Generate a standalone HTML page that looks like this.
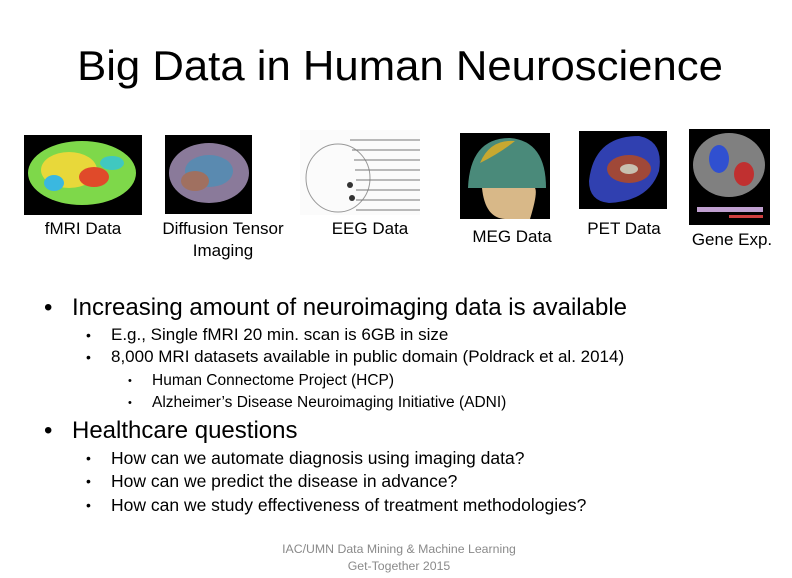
<!DOCTYPE html>
<html><head><meta charset="utf-8"><style>
body{margin:0;width:792px;height:578px;background:#fff;overflow:hidden;position:relative;font-family:"Liberation Sans",sans-serif;color:#000}
.t{position:absolute;white-space:nowrap;transform-origin:0 50%;transform:scaleX(1.0)}
.c{position:absolute;white-space:nowrap;text-align:center}
.img{position:absolute}
.b{position:absolute;white-space:nowrap}
</style></head><body>
<div class="c" style="left:0;width:800px;top:40px;font-size:42px;line-height:52px;transform:scaleX(1.04)">Big Data in Human Neuroscience</div>

<svg class="img" style="left:24px;top:135px" width="118" height="80"><rect width="118" height="80" fill="#000"/><ellipse cx="58" cy="38" rx="54" ry="32" fill="#7ed84a"/><ellipse cx="45" cy="35" rx="28" ry="18" fill="#e8d83a"/><ellipse cx="70" cy="42" rx="15" ry="10" fill="#e04a2a"/><ellipse cx="30" cy="48" rx="10" ry="8" fill="#3ab8e0"/><ellipse cx="88" cy="28" rx="12" ry="7" fill="#40c8c0"/></svg>
<svg class="img" style="left:165px;top:135px" width="87" height="79"><rect width="87" height="79" fill="#000"/><ellipse cx="44" cy="38" rx="40" ry="30" fill="#8a7a9a"/><ellipse cx="44" cy="36" rx="24" ry="16" fill="#5a8ab0"/><ellipse cx="30" cy="46" rx="14" ry="10" fill="#a07060"/></svg>
<svg class="img" style="left:300px;top:130px" width="120" height="85"><rect width="120" height="85" fill="#fbfbfb"/><ellipse cx="38" cy="48" rx="32" ry="34" fill="none" stroke="#999"/><g stroke="#777" fill="none"><path d="M50 10h70M52 20h68M54 30h66M55 40h65M56 50h64M56 60h64M56 70h64M56 80h64"/></g><circle cx="50" cy="55" r="3" fill="#333"/><circle cx="52" cy="68" r="3" fill="#333"/></svg>
<svg class="img" style="left:460px;top:133px" width="90" height="86"><rect width="90" height="86" fill="#000"/><path d="M8 55 Q10 5 50 5 Q86 8 86 55 Z" fill="#4a8a7a"/><path d="M20 30 Q30 6 55 8 Q40 20 20 30Z" fill="#c8a830"/><path d="M22 55 Q25 85 45 86 L70 86 Q78 60 75 55Z" fill="#d8b888"/></svg>
<svg class="img" style="left:579px;top:131px" width="88" height="78"><rect width="88" height="78" fill="#000"/><path d="M10 50 Q15 5 60 5 Q85 10 80 40 Q70 70 30 72 Q10 70 10 50Z" fill="#3040b0"/><ellipse cx="50" cy="38" rx="22" ry="14" fill="#a04838"/><ellipse cx="50" cy="38" rx="9" ry="5" fill="#c8c0b0"/></svg>
<svg class="img" style="left:689px;top:129px" width="81" height="96"><rect width="81" height="96" fill="#000"/><ellipse cx="40" cy="36" rx="36" ry="32" fill="#808080"/><ellipse cx="30" cy="30" rx="10" ry="14" fill="#3050d0"/><ellipse cx="55" cy="45" rx="10" ry="12" fill="#c03030"/><rect x="8" y="78" width="66" height="5" fill="#c0a0d0"/><rect x="40" y="86" width="34" height="3" fill="#d04040"/></svg>

<div class="c" style="left:23px;width:120px;top:218px;font-size:17px;line-height:22px">fMRI Data</div>
<div class="c" style="left:148px;width:150px;top:218px;font-size:17px;line-height:22px">Diffusion Tensor<br>Imaging</div>
<div class="c" style="left:310px;width:120px;top:218px;font-size:17px;line-height:22px">EEG Data</div>
<div class="c" style="left:452px;width:120px;top:226px;font-size:17px;line-height:22px">MEG Data</div>
<div class="c" style="left:564px;width:120px;top:218px;font-size:17px;line-height:22px">PET Data</div>
<div class="c" style="left:672px;width:120px;top:229px;font-size:17px;line-height:22px">Gene Exp.</div>

<div class="b" style="left:44px;top:293px;font-size:24px;line-height:30px">•</div>
<div class="t" style="left:72px;top:293px;font-size:24px;line-height:30px">Increasing amount of neuroimaging data is available</div>
<div class="b" style="left:86px;top:324px;font-size:14px;line-height:22px">•</div>
<div class="t" style="left:111px;top:324px;font-size:17px;line-height:22px">E.g., Single fMRI 20 min. scan is 6GB in size</div>
<div class="b" style="left:86px;top:346px;font-size:14px;line-height:22px">•</div>
<div class="t" style="left:111px;top:346px;font-size:17px;line-height:22px">8,000 MRI datasets available in public domain (Poldrack et al. 2014)</div>
<div class="b" style="left:128px;top:371px;font-size:11px;line-height:20px">•</div>
<div class="t" style="left:152px;top:371px;font-size:15.5px;line-height:20px">Human Connectome Project (HCP)</div>
<div class="b" style="left:128px;top:393px;font-size:11px;line-height:20px">•</div>
<div class="t" style="left:152px;top:393px;font-size:15.5px;line-height:20px">Alzheimer’s Disease Neuroimaging Initiative (ADNI)</div>
<div class="b" style="left:44px;top:416px;font-size:24px;line-height:30px">•</div>
<div class="t" style="left:72px;top:416px;font-size:24px;line-height:30px">Healthcare questions</div>
<div class="b" style="left:86px;top:447px;font-size:14px;line-height:22px">•</div>
<div class="t" style="left:111px;top:447px;font-size:17.5px;line-height:22px">How can we automate diagnosis using imaging data?</div>
<div class="b" style="left:86px;top:470px;font-size:14px;line-height:22px">•</div>
<div class="t" style="left:111px;top:470px;font-size:17.5px;line-height:22px">How can we predict the disease in advance?</div>
<div class="b" style="left:86px;top:494px;font-size:14px;line-height:22px">•</div>
<div class="t" style="left:111px;top:494px;font-size:17.5px;line-height:22px">How can we study effectiveness of treatment methodologies?</div>

<div class="c" style="left:280px;width:238px;top:541px;font-size:12.3px;line-height:17px;color:#8a8a8a">IAC/UMN Data Mining &amp; Machine Learning<br>Get-Together 2015</div>
</body></html>
